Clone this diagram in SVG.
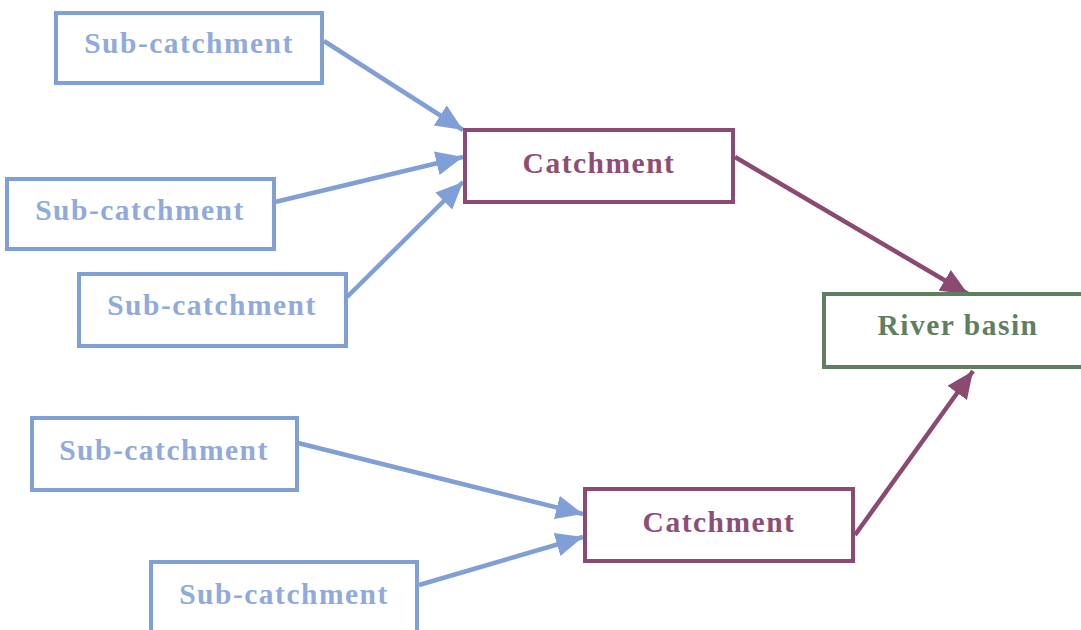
<svg xmlns="http://www.w3.org/2000/svg" width="1081" height="630" viewBox="0 0 1081 630">
<style>
.box{fill:#fff;stroke-width:4}
.sub{stroke:#7f9fd6}
.cat{stroke:#8a4a72}
.riv{stroke:#5f7f60}
text{font-family:"Liberation Serif","Times New Roman",serif;font-weight:bold;font-size:29.5px;text-anchor:middle;letter-spacing:1.5px}
.tsub{fill:#90aadb}
.tcat{fill:#8c4e76}
.triv{fill:#5f7f60}
.lb{stroke:#7f9fd6;stroke-width:4.5;fill:none;marker-end:url(#ab)}
.lp{stroke:#8a4a72;stroke-width:4.5;fill:none;marker-end:url(#ap)}
</style>
<defs>
<marker id="ab" markerUnits="userSpaceOnUse" markerWidth="30" markerHeight="26" refX="27" refY="12" orient="auto"><path d="M0,0 L27,12 L0,24 Z" fill="#7f9fd6"/></marker>
<marker id="ap" markerUnits="userSpaceOnUse" markerWidth="30" markerHeight="26" refX="27" refY="12" orient="auto"><path d="M0,0 L27,12 L0,24 Z" fill="#8a4a72"/></marker>
</defs>
<rect width="1081" height="630" fill="#fff"/>
<g id="connectors">
<line class="lb" x1="324" y1="41" x2="463" y2="130"/>
<line class="lb" x1="275" y1="202" x2="463" y2="157"/>
<line class="lb" x1="347" y1="297" x2="463" y2="182"/>
<line class="lb" x1="298" y1="443" x2="583" y2="514"/>
<line class="lb" x1="419" y1="585" x2="583" y2="537"/>
<line class="lp" x1="735" y1="157" x2="968" y2="294"/>
<line class="lp" x1="855" y1="535" x2="973" y2="371"/>
</g>
<g id="sub1"><rect class="box sub" x="56" y="13" width="266" height="70"/><text class="tsub" x="189" y="53">Sub-catchment</text></g>
<g id="sub2"><rect class="box sub" x="7" y="179" width="267" height="70"/><text class="tsub" x="140" y="220">Sub-catchment</text></g>
<g id="sub3"><rect class="box sub" x="79" y="274" width="267" height="72"/><text class="tsub" x="212" y="315">Sub-catchment</text></g>
<g id="sub4"><rect class="box sub" x="32" y="418" width="265" height="72"/><text class="tsub" x="164" y="460">Sub-catchment</text></g>
<g id="sub5"><rect class="box sub" x="151" y="562" width="266" height="72"/><text class="tsub" x="284" y="604">Sub-catchment</text></g>
<g id="catchment1"><rect class="box cat" x="465" y="130" width="268" height="72"/><text class="tcat" x="599" y="173">Catchment</text></g>
<g id="catchment2"><rect class="box cat" x="585" y="489" width="268" height="72"/><text class="tcat" x="719" y="532">Catchment</text></g>
<g id="riverbasin"><rect class="box riv" x="824" y="294" width="260" height="73"/><text class="triv" x="958" y="335">River basin</text></g>
</svg>
